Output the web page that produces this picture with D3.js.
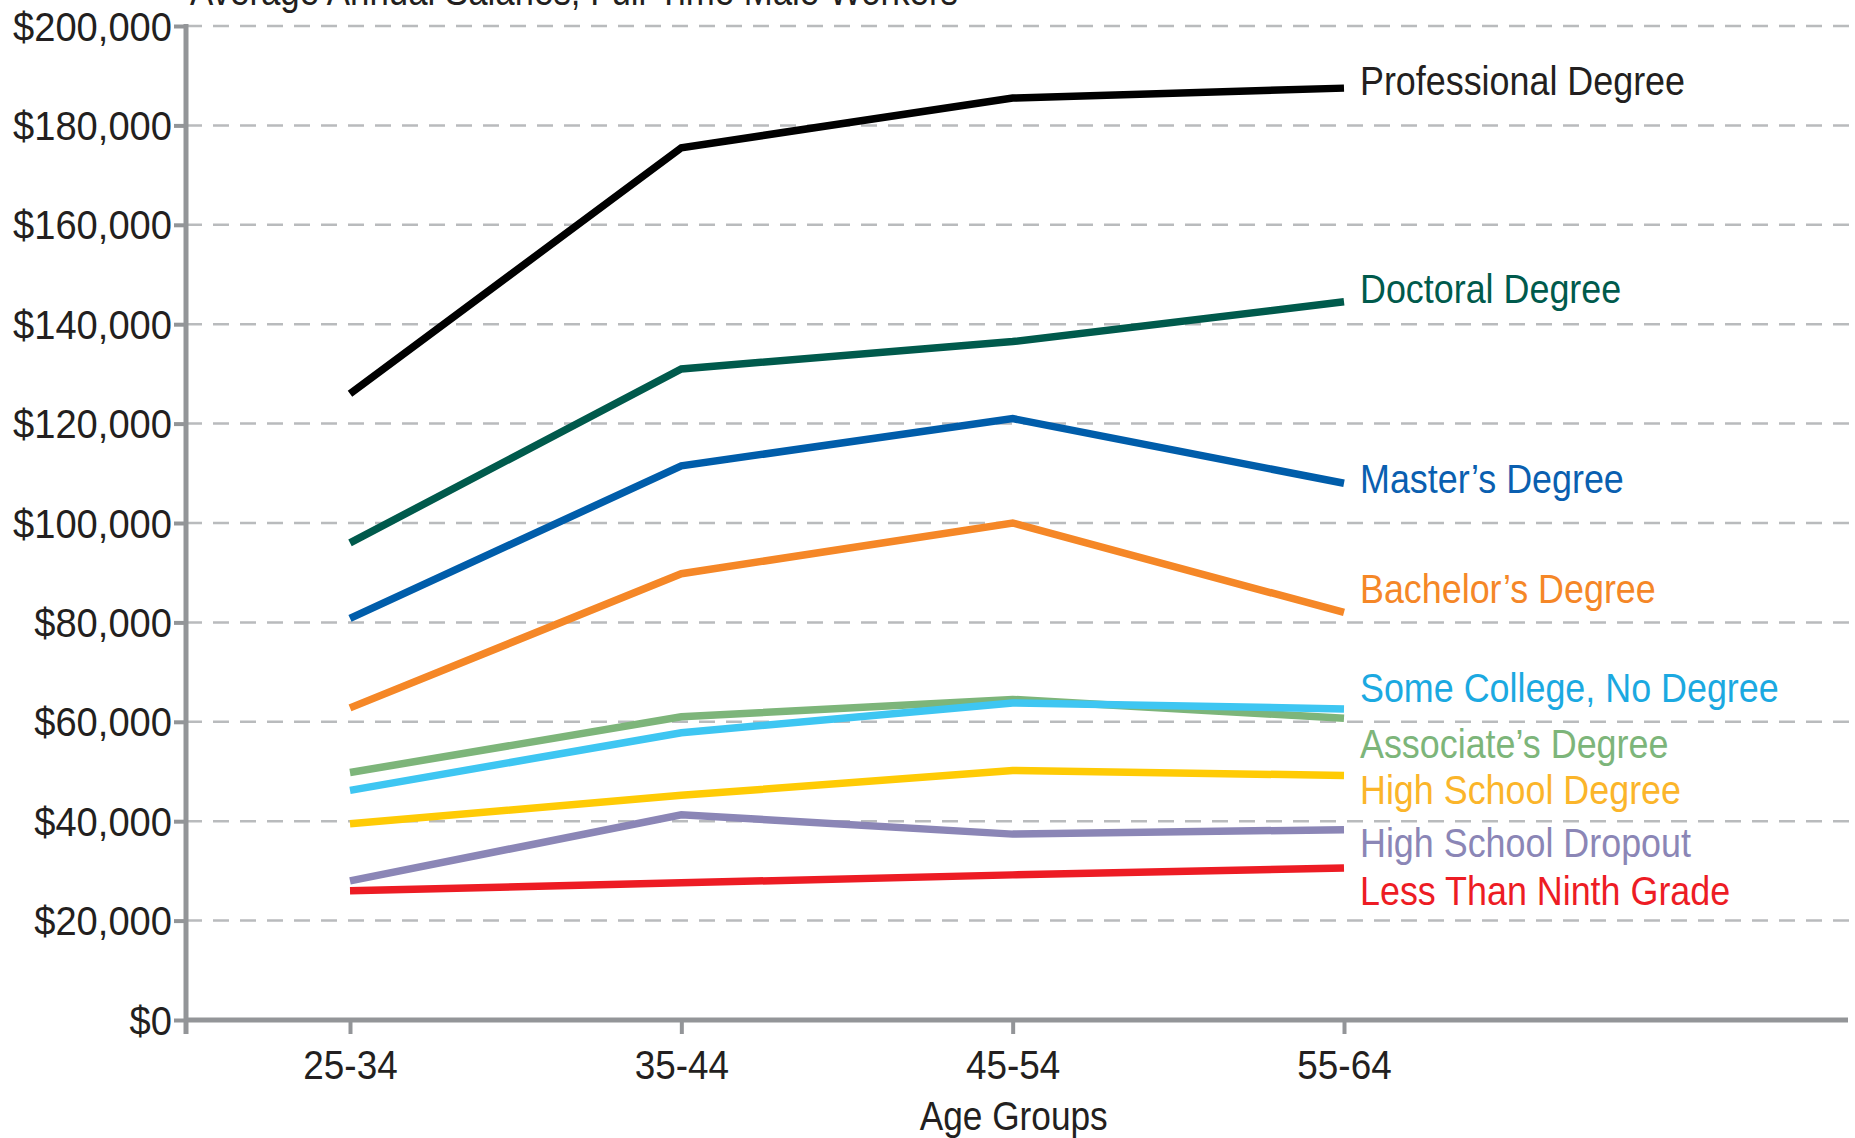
<!DOCTYPE html>
<html>
<head>
<meta charset="utf-8">
<script src="https://cdn.jsdelivr.net/npm/d3@7"></script>
<style>
  body { margin: 0; background: #fff; }
  svg text { font-family: "Liberation Sans", Arial, sans-serif; font-size: 41px; fill: #231f20; }
</style>
</head>
<body>
<div id="app"></div>
<script>
// data
const ageGroups = ["25-34", "35-44", "45-54", "55-64"]
const seriesNames = ["Professional Degree", "Doctoral Degree", "Master\u2019s Degree", "Bachelor\u2019s Degree",
  "Some College, No Degree", "Associate\u2019s Degree", "High School Degree", "High School Dropout", "Less Than Ninth Grade"]
const professional = [126000, 175500, 185500, 187500]
const doctoral = [96000, 131000, 136500, 144500]
const masters = [80800, 111500, 121000, 108000]
const bachelors = [62800, 89800, 100000, 82000]
const someCollege = [46200, 57800, 63800, 62600]
const associates = [49800, 61000, 64500, 60700]
const highSchool = [39500, 45200, 50200, 49200]
const dropout = [28000, 41300, 37400, 38300]
const lessNinth = [26000, 27600, 29200, 30600]
const yTicks = [0, 20000, 40000, 60000, 80000, 100000, 120000, 140000, 160000, 180000, 200000]

const lineColors = ["#000000", "#005a4c", "#005daa", "#f58727", "#3ec6f2", "#7db57a", "#ffcb05", "#8b86b6", "#ed1c24"]
const textColors = ["#231f20", "#005a4c", "#0a5fb0", "#f58727", "#1ba9e1", "#7db57a", "#fbb52a", "#8b86b6", "#ed1c24"]
// label baselines (px), nudged apart like the original
const labelBaseline = [95, 303, 493, 603, 702, 758, 804, 857, 905]

const allSeries = [professional, doctoral, masters, bachelors, someCollege, associates, highSchool, dropout, lessNinth]

const width = 1855
const height = 1138
const axisX = 186
const axisY = 1020

// the source font is a condensed grotesque, so squeeze Liberation Sans sideways
const narrow = (tx, ty, sx) => `translate(${tx},${ty}) scale(${sx},1)`

const x = d3.scalePoint().domain(ageGroups).range([350, 1344])
const y = d3.scaleLinear().domain([0, 200000]).range([axisY, 26])

const svg = d3.select('#app').append('svg')
  .attr('width', width)
  .attr('height', height)

// title, cut off at the top like the source
svg.append('text')
  .attr('transform', narrow(190, 5, 0.85))
  .text('Average Annual Salaries, Full-Time Male Workers')

// dashed gridlines
svg.append('g')
  .selectAll('line')
  .data(yTicks.filter(d => d > 0))
  .join('line')
  .attr('x1', axisX).attr('x2', width)
  .attr('y1', d => y(d)).attr('y2', d => y(d))
  .attr('stroke', '#b9bbbd')
  .attr('stroke-width', 2.5)
  .attr('stroke-dasharray', '16 11')

// y axis
const gy = svg.append('g')
  .attr('transform', `translate(${axisX},0)`)
  .call(d3.axisLeft(y).tickValues(yTicks).tickSize(12))
gy.select('.domain').remove()
gy.selectAll('.tick line').attr('stroke', '#939598').attr('stroke-width', 4)
gy.selectAll('.tick text').remove()
gy.selectAll('.tick').append('text')
  .attr('transform', narrow(-14, 14, 0.93))
  .attr('text-anchor', 'end')
  .text(d => '$' + d3.format(',')(d))
gy.append('line')
  .attr('x1', 0).attr('x2', 0)
  .attr('y1', y(200000) - 2).attr('y2', axisY + 14)
  .attr('stroke', '#939598').attr('stroke-width', 5)

// x axis
const gx = svg.append('g')
  .attr('transform', `translate(0,${axisY})`)
  .call(d3.axisBottom(x).tickSize(14))
gx.select('.domain').remove()
gx.selectAll('.tick line').attr('stroke', '#939598').attr('stroke-width', 4)
gx.selectAll('.tick text').remove()
gx.selectAll('.tick').append('text')
  .attr('transform', narrow(0, 59, 0.9))
  .attr('text-anchor', 'middle')
  .text(d => d)
gx.append('line')
  .attr('x1', axisX - 2).attr('x2', 1848)
  .attr('y1', 0).attr('y2', 0)
  .attr('stroke', '#939598').attr('stroke-width', 5)

svg.append('text')
  .attr('transform', narrow(x('45-54') + 1, 1130, 0.86))
  .attr('text-anchor', 'middle')
  .text('Age Groups')

// series lines
const line = d3.line()
  .x((d, i) => x(ageGroups[i]))
  .y(d => y(d))

svg.append('g')
  .selectAll('path')
  .data(allSeries.slice().reverse())
  .join('path')
  .attr('d', line)
  .attr('fill', 'none')
  .attr('stroke', (d, i) => lineColors[allSeries.length - 1 - i])
  .attr('stroke-width', 7.5)
  .attr('stroke-linejoin', 'miter')

// end labels
svg.append('g')
  .selectAll('text')
  .data(seriesNames)
  .join('text')
  .attr('transform', (d, i) => narrow(1360, labelBaseline[i], 0.875))
  .style('fill', (d, i) => textColors[i])
  .text(d => d)
</script>
</body>
</html>
